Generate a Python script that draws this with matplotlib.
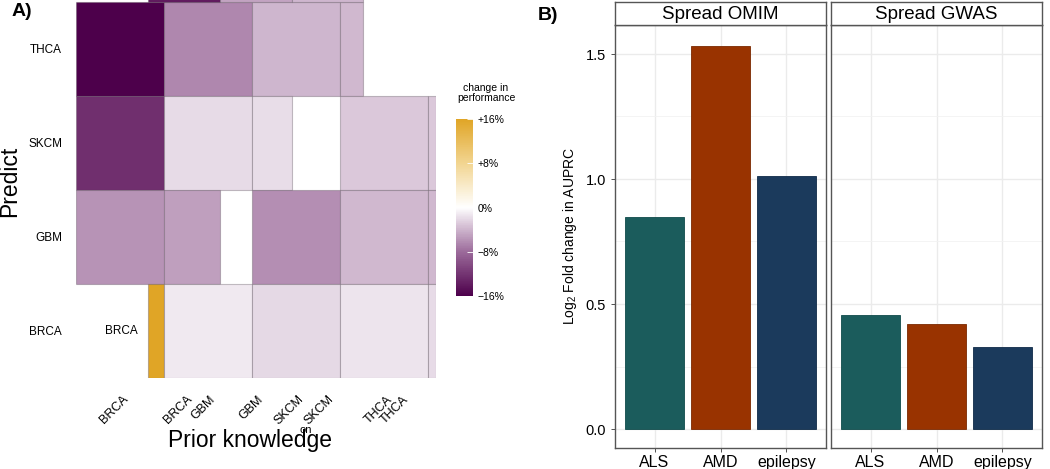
import numpy as np
import matplotlib.pyplot as plt
from matplotlib.colors import LinearSegmentedColormap, Normalize
from matplotlib.patches import Rectangle
from matplotlib.cm import ScalarMappable

plt.rcParams['font.family'] = ['Liberation Sans', 'DejaVu Sans']
plt.rcParams['mathtext.fontset'] = 'custom'
plt.rcParams['mathtext.rm'] = 'Liberation Sans'

# ---- panel A data: heatmap tiles (row, x start, width, change in %)
rows = ["BRCA", "GBM", "SKCM", "THCA"]
tile_row = ["THCA", "THCA", "THCA", "THCA",
            "SKCM", "SKCM", "SKCM", "SKCM", "SKCM",
            "GBM", "GBM", "GBM", "GBM", "GBM",
            "BRCA", "BRCA", "BRCA", "BRCA", "BRCA",
            "top", "top", "top"]
tile_x0 = [0, 1, 2, 3,
           0, 1, 2, 3, 4,
           0, 1, 2, 3, 4,
           0.82, 1, 2, 3, 4,
           0.82, 1.64, 2.45]
tile_w = [1, 1, 1, 0.26,
          1, 1, 0.45, 1, 0.09,
          1, 0.64, 1, 1, 0.09,
          0.18, 1, 1, 1, 0.09,
          0.82, 0.81, 0.81]
tile_change = [-16, -6.5, -4, -3.8,
               -12.5, -2, -1.8, -3, -3,
               -5.8, -5.2, -6.1, -3.8, -3.8,
               16, -1.2, -2.1, -1.4, -2,
               -14, -5, -4]
prior_labels = ["BRCA", "BRCA", "GBM", "GBM", "SKCM", "SKCM", "THCA", "THCA"]
prior_pos = [0.575, 1.295, 1.555, 2.105, 2.57, 2.91, 3.57, 3.755]

# ---- panel B data
diseases = ["ALS", "AMD", "epilepsy"]
omim = [0.848, 1.533, 1.012]
gwas = [0.456, 0.419, 0.328]
bar_colors = ["#1b5c5c", "#993300", "#1b3a5c"]
edge_colors = ["#0f4a4a", "#7a2800", "#0f2a48"]

fig = plt.figure(figsize=(10.5, 4.69), dpi=100)

cmap = LinearSegmentedColormap.from_list(
    "pk", [(0, "#4d004b"), (0.25, "#9c6b9b"), (0.5, "white"),
           (0.75, "#f2d591"), (1, "#e0a526")])
norm = Normalize(-16, 16)

ax = fig.add_axes([76 / 1050, (469 - 378) / 469, 360 / 1050, 378 / 469])
row_index = {r: i for i, r in enumerate(rows)}
row_index["top"] = 4
for r, x0, w, v in zip(tile_row, tile_x0, tile_w, tile_change):
    ax.add_patch(Rectangle((x0, row_index[r]), w, 1, facecolor=cmap(norm(v)),
                           edgecolor=(0.35, 0.3, 0.35, 0.35), lw=0.8))
ax.set_xlim(0, 4.09)
ax.set_ylim(0, 4.021)
for s in ax.spines.values():
    s.set_visible(False)
ax.set_yticks(np.arange(len(rows)) + 0.5)
ax.set_yticklabels(rows, fontsize=8.5)
ax.tick_params(axis='y', length=0, pad=10)
ax.set_xticks(prior_pos)
ax.set_xticklabels(prior_labels, rotation=45, ha='right', va='center',
                   rotation_mode='anchor', fontsize=9)
ax.tick_params(axis='x', length=0, pad=14)
ax.text(0.52, 0.5, "BRCA", ha='center', va='center', fontsize=8.5)
fig.text(250 / 1050, 1 - 440 / 469, "Prior knowledge", ha='center', va='center', fontsize=16.5)
fig.text(306 / 1050, 1 - 430 / 469, "on", ha='center', va='center', fontsize=8)
fig.text(10 / 1050, 1 - 181 / 469, "Predict", ha='center', va='center', rotation=90, fontsize=16.5)
fig.text(12 / 1050, 1 - 11 / 469, "A)", ha='left', va='center', fontsize=14, fontweight='bold')

# colorbar
cax = fig.add_axes([456 / 1050, (469 - 296) / 469, 17 / 1050, 177 / 469])
cb = fig.colorbar(ScalarMappable(norm=norm, cmap=cmap), cax=cax,
                  ticks=[-16, -8, 0, 8, 16])
cb.outline.set_visible(False)
cb.ax.set_yticklabels(["\u221216%", "\u22128%", "0%", "+8%", "+16%"], fontsize=7.5)
cb.ax.tick_params(direction='in', color='white', length=4, width=0.6, pad=3)
fig.text(486 / 1050, 1 - 93 / 469, "change in\nperformance", ha='center', va='center',
         fontsize=7.5, linespacing=1.1)

# ---- panel B
fig.text(548 / 1050, 1 - 15 / 469, "B)", ha='center', va='center', fontsize=14, fontweight='bold')
panels = [("Spread OMIM", omim, 615), ("Spread GWAS", gwas, 831)]
x = np.arange(1, len(diseases) + 1)
for i, (title, vals, left) in enumerate(panels):
    a = fig.add_axes([left / 1050, (469 - 448) / 469, 211 / 1050, 423 / 469])
    a.set_axisbelow(True)
    a.bar(x, vals, width=0.9, color=bar_colors, edgecolor=edge_colors, lw=0.6)
    a.set_xlim(0.4, 3.6)
    a.set_ylim(-0.076, 1.616)
    a.set_yticks([0, 0.5, 1.0, 1.5])
    a.set_yticks([0.25, 0.75, 1.25], minor=True)
    a.set_xticks(x)
    a.set_xticklabels(diseases, fontsize=11.5)
    a.grid(which='major', color='#ebebeb', lw=1.0)
    a.grid(which='minor', axis='y', color='#f2f2f2', lw=0.6)
    for s in a.spines.values():
        s.set_color('#555555')
        s.set_linewidth(1.0)
    a.tick_params(axis='both', which='major', length=3, color='#333333', width=0.6)
    a.tick_params(axis='y', which='minor', length=0)
    a.tick_params(axis='x', pad=2)
    if i == 0:
        a.set_yticklabels(["0.0", "0.5", "1.0", "1.5"], fontsize=10.5)
        a.set_ylabel(r"Log$_\mathregular{2}$ Fold change in AUPRC", fontsize=10, labelpad=5)
    else:
        a.set_yticklabels([])
        a.tick_params(axis='y', length=0)
    st = fig.add_axes([left / 1050, (469 - 25) / 469, 211 / 1050, 23 / 469])
    st.set_xticks([])
    st.set_yticks([])
    for s in st.spines.values():
        s.set_color('#555555')
        s.set_linewidth(1.0)
    st.text(0.5, 0.45, title, ha='center', va='center', fontsize=13.5, transform=st.transAxes)

fig.savefig("out.png", dpi=100)
